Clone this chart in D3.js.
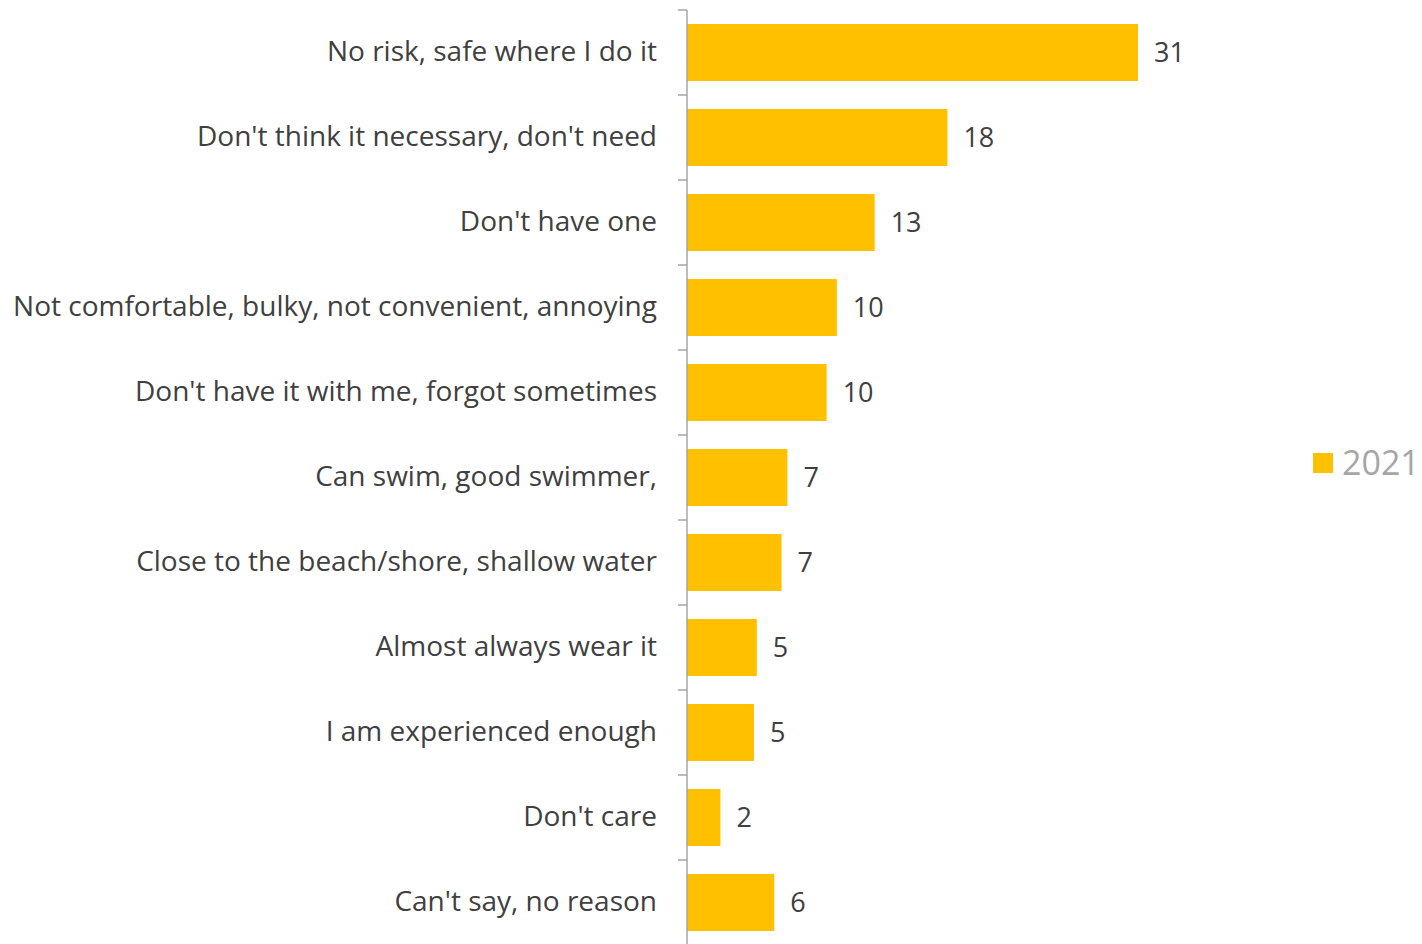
<!DOCTYPE html>
<html>
<head>
<meta charset="utf-8">
<script src="https://cdn.jsdelivr.net/npm/d3@7"></script>
<style>
  html, body { margin: 0; padding: 0; background: #fff; }
  svg { display: block; }
  text { font-family: "Open Sans", sans-serif; }
</style>
</head>
<body>
<svg id="chart" width="1422" height="944"></svg>
<script>
const categories = [
  "No risk, safe where I do it",
  "Don't think it necessary, don't need",
  "Don't have one",
  "Not comfortable, bulky, not convenient, annoying",
  "Don't have it with me, forgot sometimes",
  "Can swim, good swimmer,",
  "Close to the beach/shore, shallow water",
  "Almost always wear it",
  "I am experienced enough",
  "Don't care",
  "Can't say, no reason"
];
const values2021 = [31.0, 17.9, 12.9, 10.3, 9.6, 6.9, 6.5, 4.8, 4.6, 2.3, 6.0];
const valueLabels = ["31", "18", "13", "10", "10", "7", "7", "5", "5", "2", "6"];
const seriesName = "2021";

const svg = d3.select("#chart");
const axisX = 687;
const barColor = "#FFC000";

const y = d3.scaleBand()
  .domain(categories)
  .range([10, 945])
  .paddingInner(0.33)
  .paddingOuter(0.165);

const x = d3.scaleLinear()
  .domain([0, 31])
  .range([axisX, 1138]);

// bars
svg.append("g").selectAll("rect")
  .data(categories)
  .join("rect")
  .attr("x", x(0))
  .attr("y", d => y(d))
  .attr("width", (d, i) => x(values2021[i]) - x(0))
  .attr("height", y.bandwidth())
  .attr("fill", barColor);

// axis
const axis = d3.axisLeft(y).tickSize(0).tickPadding(30);
const gAxis = svg.append("g")
  .attr("transform", `translate(${axisX},0)`)
  .call(axis);
gAxis.select(".domain").attr("stroke", "#a6a6a6").attr("stroke-width", 1.5)
  .attr("d", "M0,10V944");
gAxis.selectAll(".tick text")
  .attr("fill", "#404040")
  .style("font-size", "28px")
  .style("font-family", "'Open Sans', sans-serif");

// boundary ticks
const step = y.step();
const boundaries = d3.range(categories.length + 1).map(i => 10 + i * step);
svg.append("g").selectAll("line")
  .data(boundaries)
  .join("line")
  .attr("x1", axisX - 9).attr("x2", axisX)
  .attr("y1", d => d).attr("y2", d => d)
  .attr("stroke", "#a6a6a6").attr("stroke-width", 1.5);

// value labels
svg.append("g").selectAll("text")
  .data(categories)
  .join("text")
  .attr("x", (d, i) => x(values2021[i]) + 16)
  .attr("y", d => y(d) + y.bandwidth() / 2)
  .attr("dy", "0.35em")
  .attr("fill", "#404040")
  .style("font-size", "27px")
  .text((d, i) => valueLabels[i]);

// legend
const legend = svg.append("g").attr("transform", "translate(1313,453)");
legend.append("rect").attr("width", 20).attr("height", 20).attr("fill", barColor);
legend.append("text")
  .attr("x", 29).attr("y", 10).attr("dy", "0.35em")
  .attr("fill", "#a6a6a6")
  .style("font-size", "34px")
  .text(seriesName);
</script>
</body>
</html>
